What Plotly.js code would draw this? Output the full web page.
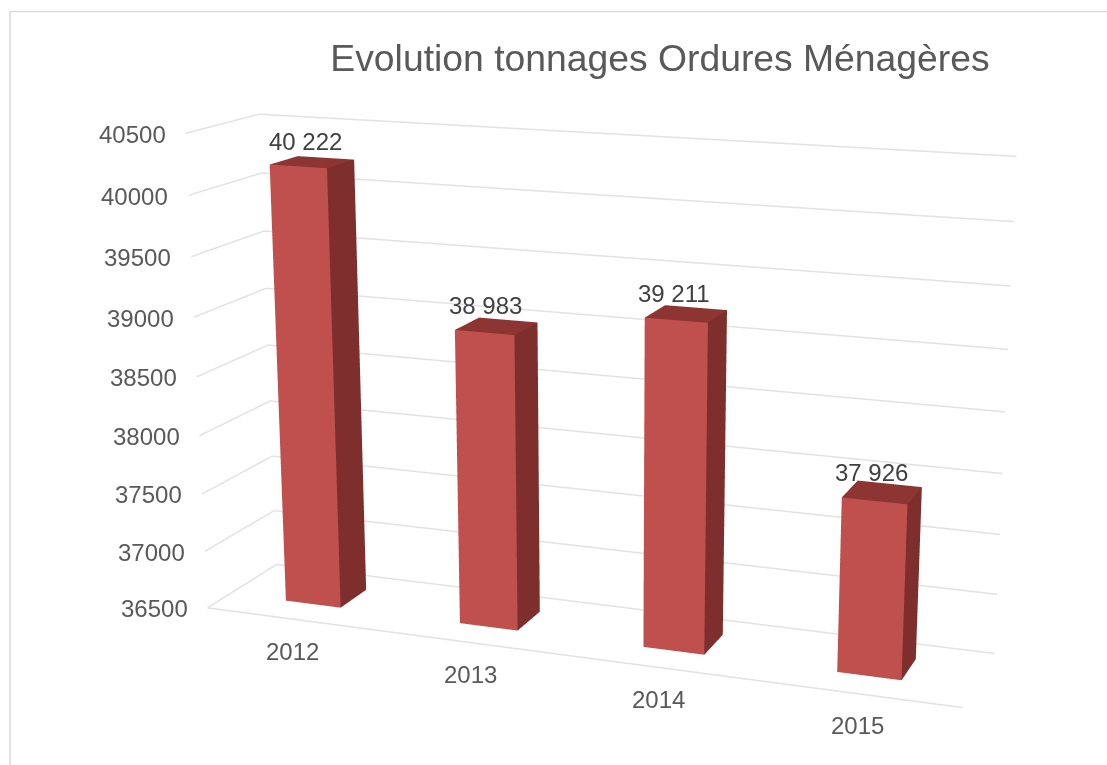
<!DOCTYPE html>
<html><head><meta charset="utf-8">
<script src="https://cdn.plot.ly/plotly-3.0.1.min.js"></script>
<style>html,body{margin:0;padding:0;background:#fff;overflow:hidden;width:1107px;height:765px}
#chart{position:absolute;left:-438px;top:-565px;width:2200px;height:1932px}</style>
</head><body><div id="chart"></div>
<script>
var categories = ["2012","2013","2014","2015"];
var values = [40222,38983,39211,37926];
var valueLabels = ["40 222","38 983","39 211","37 926"];
var zTicks = [36500,37000,37500,38000,38500,39000,39500,40000,40500];
var labelNudge = [-7,-12,-13,-12];
var W=2200,H=1932,L=-438,T=-565;
var k=2, pad=1.01;
var aspect={x:.3287*k*pad,y:.0617*k*pad,z:.2043*k*pad};
var eye={x:.3286*k,y:-.8600*k,z:.2383*k};
var center={x:.0278*k,y:.0084*k,z:-.0025*k};
var up={x:-.0885,y:.2376,z:.9673};
var barW=.32, barC=.49, y0=.32, y1=.72;
var FRONT='#C0504D',SIDE='#7E2F2D',TOP='#8C3533',GRID='#E2E2E2',BORDER='#D9D9D9';
var FONT='Liberation Sans, Arial, sans-serif';
function padded(a,b){var m=(a+b)/2,h=(b-a)/2*pad;return [m-h,m+h];}
var traces=[];
zTicks.forEach(function(v){
  traces.push({type:'scatter3d',mode:'lines',x:[0,0,4],y:[0,1,1],z:[v,v,v],line:{color:GRID,width:3},hoverinfo:'skip',showlegend:false});
});
traces.push({type:'scatter3d',mode:'lines',x:[0,4],y:[0,0],z:[zTicks[0],zTicks[0]],line:{color:GRID,width:3},hoverinfo:'skip',showlegend:false});
categories.forEach(function(c,i){
  var a=i+barC-barW/2,b=i+barC+barW/2,z0=zTicks[0],z1=values[i];
  var xs=[a,b,b,a,a,b,b,a],ys=[y0,y0,y1,y1,y0,y0,y1,y1],zs=[z0,z0,z0,z0,z1,z1,z1,z1];
  traces.push({type:'mesh3d',x:xs,y:ys,z:zs,
    i:[0,0,1,1,4,4],j:[1,5,2,6,5,6],k:[5,4,6,5,6,7],
    facecolor:[FRONT,FRONT,SIDE,SIDE,TOP,TOP],flatshading:true,
    lighting:{ambient:1,diffuse:0,specular:0,roughness:1,fresnel:0},hoverinfo:'skip',showscale:false,name:c});
});
var ann=[];
zTicks.forEach(function(v){ann.push({x:0,y:0,z:v,text:String(v),showarrow:false,xshift:-18,yshift:-1,xanchor:'right',yanchor:'middle',font:{family:FONT,size:24,color:'#595959'}});});
categories.forEach(function(c,i){ann.push({x:i+.5,y:0,z:zTicks[0],text:c,showarrow:false,xshift:-1,yshift:-32,xanchor:'center',yanchor:'middle',font:{family:FONT,size:24,color:'#595959'}});});
values.forEach(function(v,i){ann.push({x:i+.5,y:.5,z:v,text:valueLabels[i],showarrow:false,xshift:labelNudge[i],yshift:21,font:{family:FONT,size:24,color:'#404040'}});});
var ax={showbackground:false,showspikes:false,zeroline:false,showticklabels:false,ticks:'',title:{text:''},showline:false,showgrid:false};
var layout={paper_bgcolor:'#fff',margin:{l:0,r:0,t:0,b:0},width:W,height:H,showlegend:false,
 title:{text:'Evolution tonnages Ordures Ménagères',font:{family:FONT,size:37.3,color:'#595959'},x:(660-L)/W,xanchor:'center',y:1-(58-T)/H,yanchor:'middle'},
 scene:{domain:{x:[0,1],y:[0,1]},aspectmode:'manual',aspectratio:aspect,camera:{eye:eye,center:center,up:up,projection:{type:'perspective'}},
  xaxis:Object.assign({},ax,{range:padded(0,4)}),
  yaxis:Object.assign({},ax,{range:padded(0,1)}),
  zaxis:Object.assign({},ax,{range:padded(36500,40500)}),
  annotations:ann},
 shapes:[{type:'rect',xref:'paper',yref:'paper',x0:(10-L)/W,x1:(1300-L)/W,y0:1-(900-T)/H,y1:1-(11.5-T)/H,line:{color:BORDER,width:1.5},fillcolor:'rgba(0,0,0,0)'}]
};
Plotly.newPlot('chart',traces,layout,{displayModeBar:false});
</script></body></html>
